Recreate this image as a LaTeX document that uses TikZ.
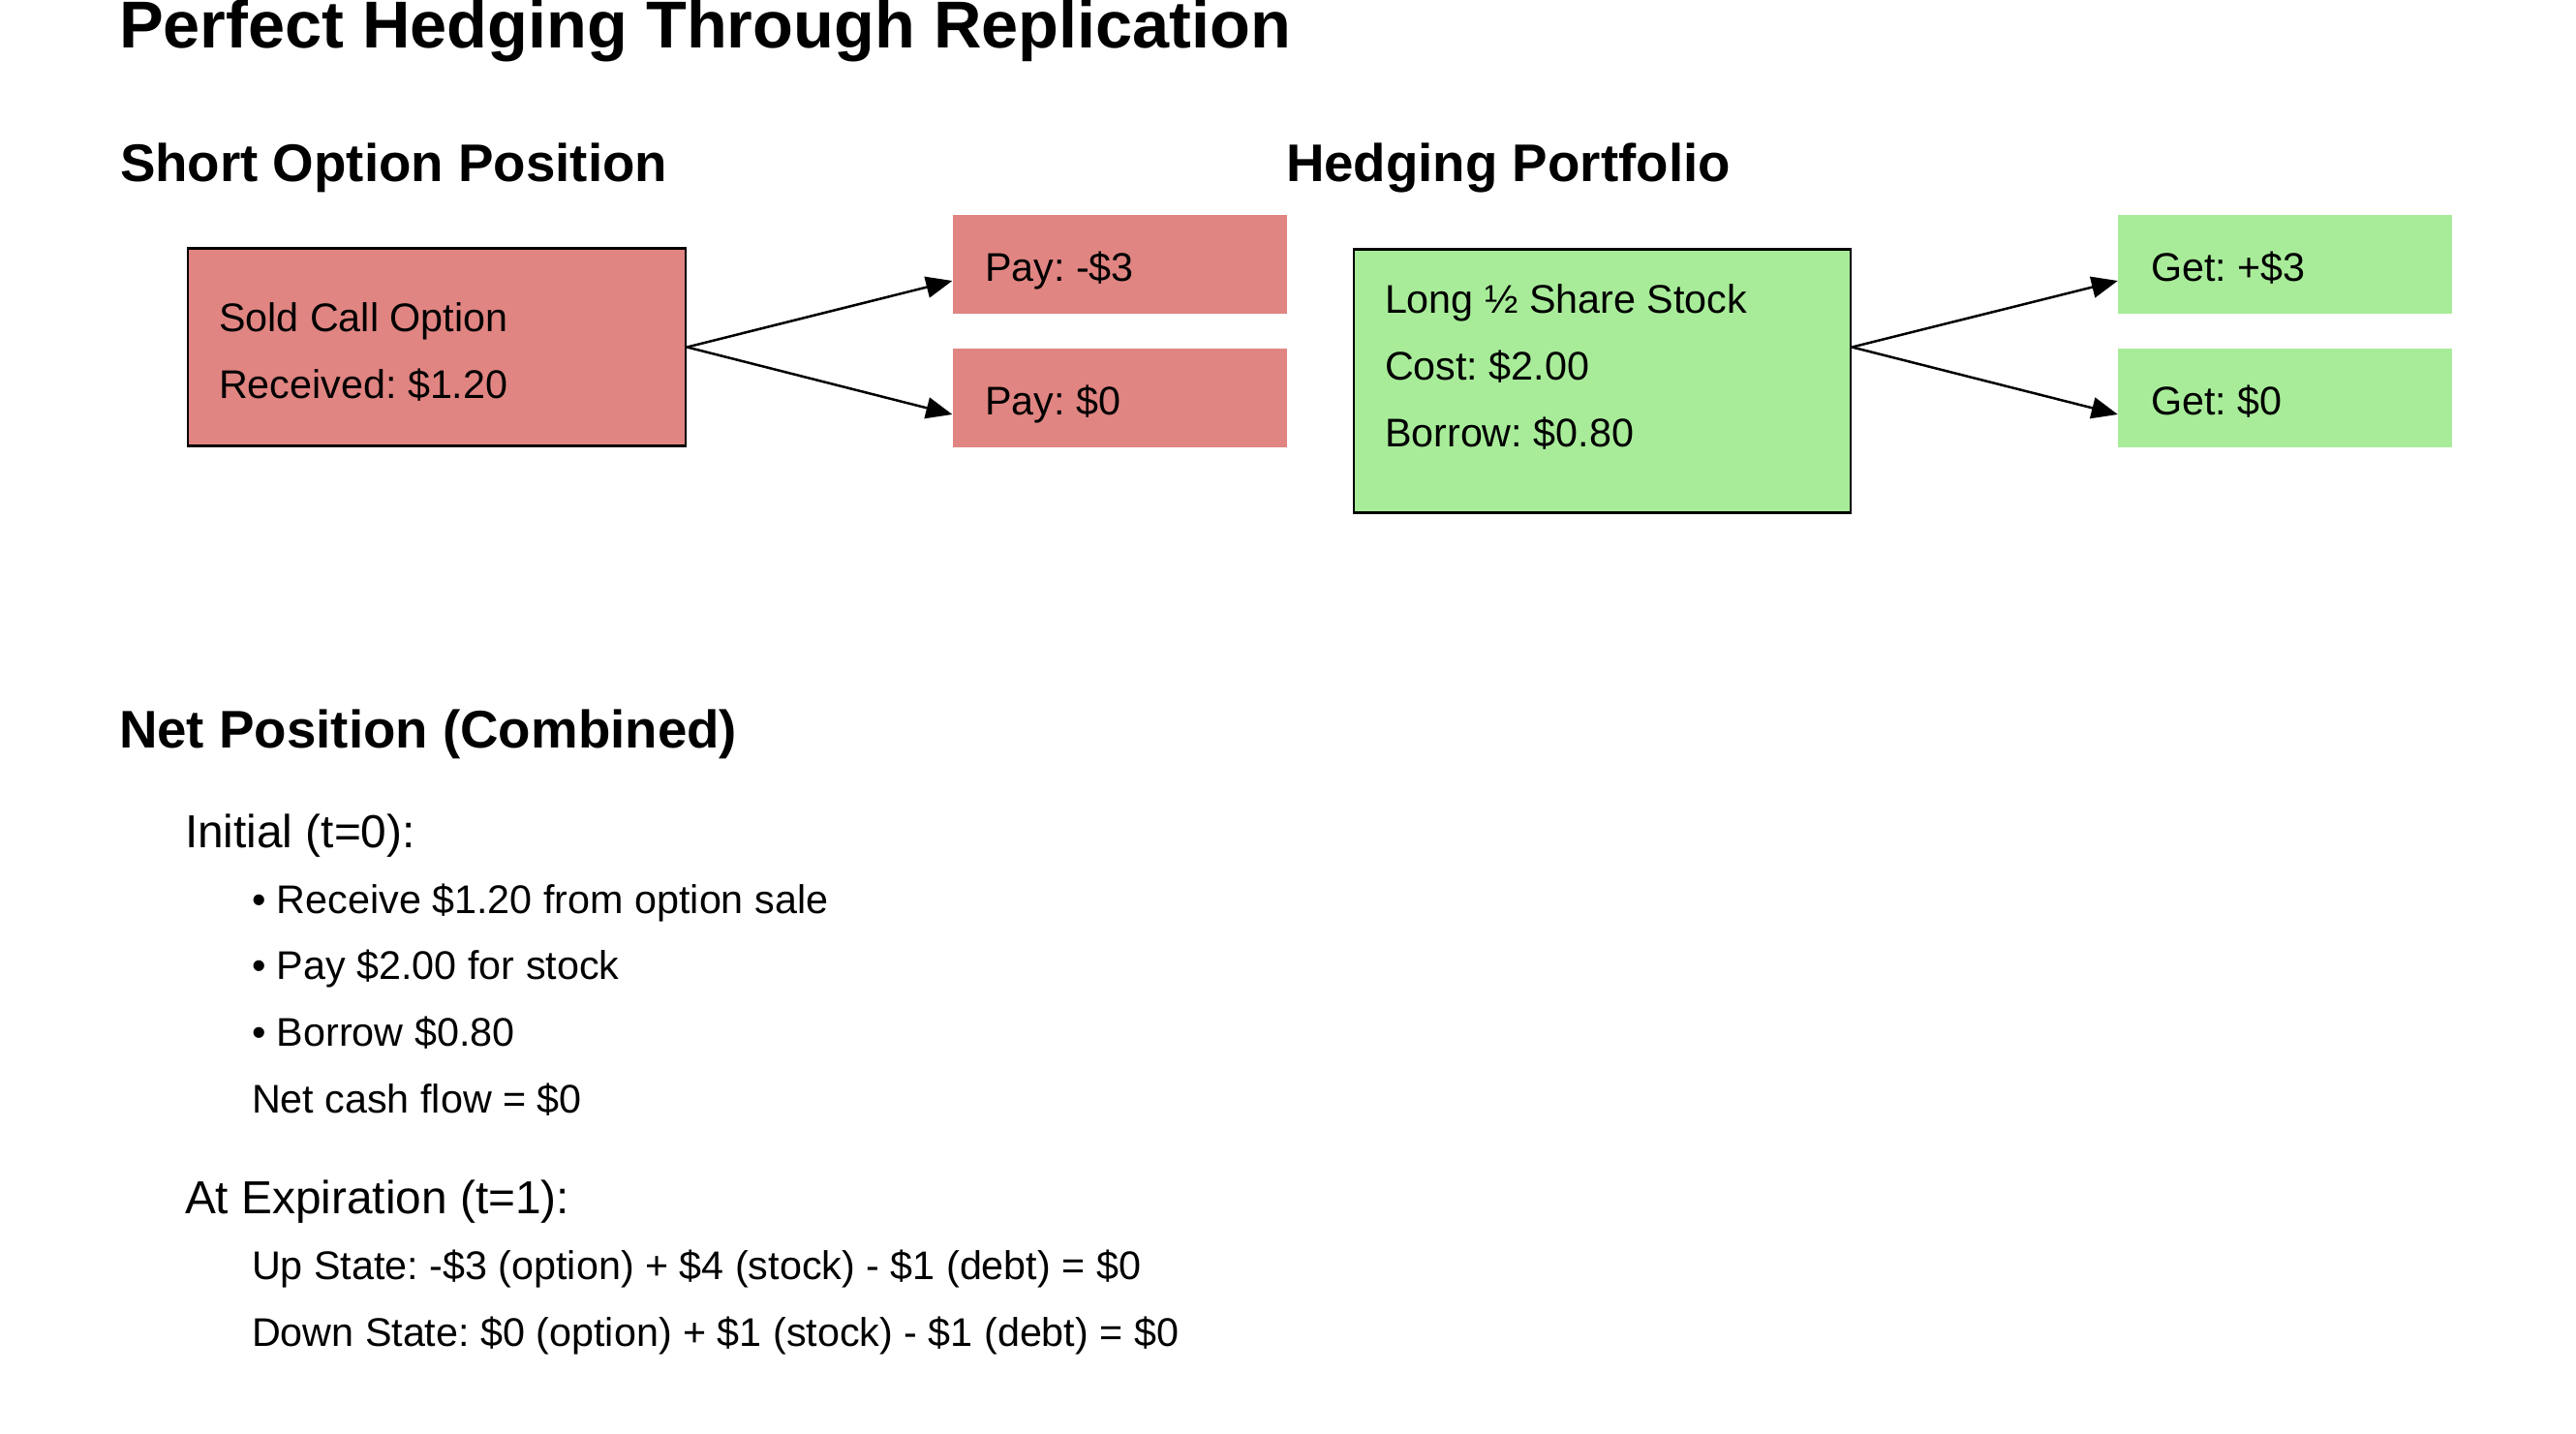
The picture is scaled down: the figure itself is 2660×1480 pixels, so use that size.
\documentclass[tikz,border=0pt]{standalone}
\usepackage{fontspec}
\setmainfont{Liberation Sans}
\usetikzlibrary{arrows.meta,calc}
\definecolor{redfill}{RGB}{224,133,130}
\definecolor{greenfill}{RGB}{168,236,153}
\frenchspacing
\begin{document}
\begin{tikzpicture}[x=1pt,y=-1pt,
  txt/.style={anchor=base west, inner sep=0pt, outer sep=0pt, font=\fontsize{41.3}{49}\selectfont},
  ttl/.style={anchor=base west, inner sep=0pt, outer sep=0pt, font=\fontsize{68.5}{80}\selectfont\bfseries},
  hdg/.style={anchor=base west, inner sep=0pt, outer sep=0pt, font=\fontsize{54.7}{64}\selectfont\bfseries},
  subhdg/.style={anchor=base west, inner sep=0pt, outer sep=0pt, font=\fontsize{47.8}{56}\selectfont},
  mainbox/.style={draw=black, line width=2.8pt, inner sep=0pt, minimum width=514pt},
  outbox/.style={inner sep=0pt, minimum width=345pt, minimum height=102pt},
  arr/.style={line width=2.5pt, -{Triangle[length=27pt,width=22pt]}},
]
\useasboundingbox[fill=white] (0,0) rectangle (2660,1480);

% title and headings
\node[ttl] (title) at (123,50) {Perfect Hedging Through Replication};
\node[hdg] (hshort) at (124,187) {Short Option Position};
\node[hdg] (hhedge) at (1328,187) {Hedging Portfolio};

% short option side
\node[mainbox, fill=redfill, minimum height=204.5pt] (box1) at (451,358.5) {};
\node[txt] (t1) at (226,342) {Sold Call Option};
\node[txt] (t2) at (226,411) {Received: \$1.20};
\node[outbox, fill=redfill] (pay1) at (1156,273) {};
\node[outbox, fill=redfill] (pay2) at (1156,410.5) {};
\node[txt] (p1t) at (1017,290) {Pay: -\$3};
\node[txt] (p2t) at (1017,428) {Pay: \$0};
\draw[arr] (box1.east) -- (pay1.west |- p1t.base);
\draw[arr] (box1.east) -- (pay2.west |- p2t.base);

% hedging portfolio side
\node[mainbox, fill=greenfill, minimum height=272.7pt, minimum width=513pt] (gbox) at (1654.5,393.5) {};
\node[txt] (g1) at (1430,323.5) {Long ½ Share Stock};
\node[txt] (g2) at (1430,392.5) {Cost: \$2.00};
\node[txt] (g3) at (1430,461.5) {Borrow: \$0.80};
\node[outbox, fill=greenfill] (get1) at (2359.5,273) {};
\node[outbox, fill=greenfill] (get2) at (2359.5,410.5) {};
\node[txt] (q1t) at (2221,290) {Get: +\$3};
\node[txt] (q2t) at (2221,428) {Get: \$0};
\coordinate (gsrc) at (gbox.east |- box1.east);
\draw[arr] (gsrc) -- (get1.west |- q1t.base);
\draw[arr] (gsrc) -- (get2.west |- q2t.base);

% net position
\node[hdg] (hnet) at (123,772) {Net Position (Combined)};
\node[subhdg] (sinit) at (191,875) {Initial (t=0):};
\node[txt] (b1) at (260,943) {• Receive \$1.20 from option sale};
\node[txt] (b2) at (260,1011) {• Pay \$2.00 for stock};
\node[txt] (b3) at (260,1080) {• Borrow \$0.80};
\node[txt] (b4) at (260,1149) {Net cash flow = \$0};
\node[subhdg] (sexp) at (191,1253) {At Expiration (t=1):};
\node[txt] (e1) at (260,1321) {Up State: -\$3 (option) + \$4 (stock) - \$1 (debt) = \$0};
\node[txt] (e2) at (260,1390) {Down State: \$0 (option) + \$1 (stock) - \$1 (debt) = \$0};
\end{tikzpicture}
\end{document}
